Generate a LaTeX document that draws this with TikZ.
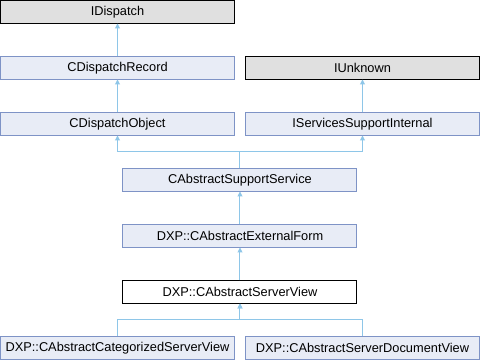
\documentclass[tikz,border=0pt]{standalone}
\usepackage{fontspec}
\setmainfont{Liberation Sans}
\usetikzlibrary{arrows.meta,positioning,calc}
\definecolor{doxFill}{HTML}{E8ECF6}
\definecolor{doxLine}{HTML}{7E93C6}
\definecolor{doxGray}{HTML}{E0E0E0}
\definecolor{doxEdge}{HTML}{8EC6E8}

\begin{document}
\begin{tikzpicture}[x=0.75pt, y=-0.75pt,
      node distance=24.75pt and 8.25pt,
      cls/.style={draw=doxLine, line width=0.75pt, fill=doxFill, outer sep=0pt, inner sep=0pt,
        font=\fontsize{9.6}{11}\selectfont, minimum width=175.5pt, minimum height=17.25pt},
      ext/.style={cls, draw=black, fill=doxGray},
      cur/.style={cls, draw=black, fill=white},
      arr/.style={-{Triangle[length=3.75pt, width=3.75pt]}, line width=0.75pt, doxEdge}]
    \useasboundingbox (0,0) rectangle (480,360);
    \node[ext, anchor=north west] (dispatch) at (0.5,0.5) {IDispatch};
    \node[cls, below=of dispatch] (record) {CDispatchRecord};
    \node[cls, below=of record] (object) {CDispatchObject};
    \node[ext, right=of record] (unknown) {IUnknown};
    \node[cls, below=of unknown] (internal) {IServicesSupportInternal};
    \coordinate (mid) at ($(object.south)!0.5!(internal.south)$);
    \node[cls, below=of mid] (support) {CAbstractSupportService};
    \node[cls, below=of support] (external) {DXP::CAbstractExternalForm};
    \node[cur, below=of external] (serverview) {DXP::CAbstractServerView};
    \coordinate (leftfoot) at (serverview.south -| object.south);
    \coordinate (rightfoot) at (serverview.south -| internal.south);
    \node[cls, below=of leftfoot] (categorized) {DXP::CAbstractCategorizedServerView};
    \node[cls, below=of rightfoot] (docview) {DXP::CAbstractServerDocumentView};

    \coordinate (topjoin) at ($(support.north)!0.5!(support.north |- object.south)$);
    \coordinate (lowjoin) at ($(serverview.south)!0.5!(serverview.south |- categorized.north)$);

    \draw[arr] (record) -- (dispatch);
    \draw[arr] (object) -- (record);
    \draw[arr] (internal) -- (unknown);
    \draw[arr] (support.north) -- (topjoin) -| (object.south);
    \draw[arr] (support.north) -- (topjoin) -| (internal.south);
    \draw[arr] (external) -- (support);
    \draw[arr] (serverview) -- (external);
    \draw[arr] (categorized.north) |- (lowjoin) -- (serverview.south);
    \draw[arr] (docview.north) |- (lowjoin) -- (serverview.south);
  \end{tikzpicture}
\end{document}
